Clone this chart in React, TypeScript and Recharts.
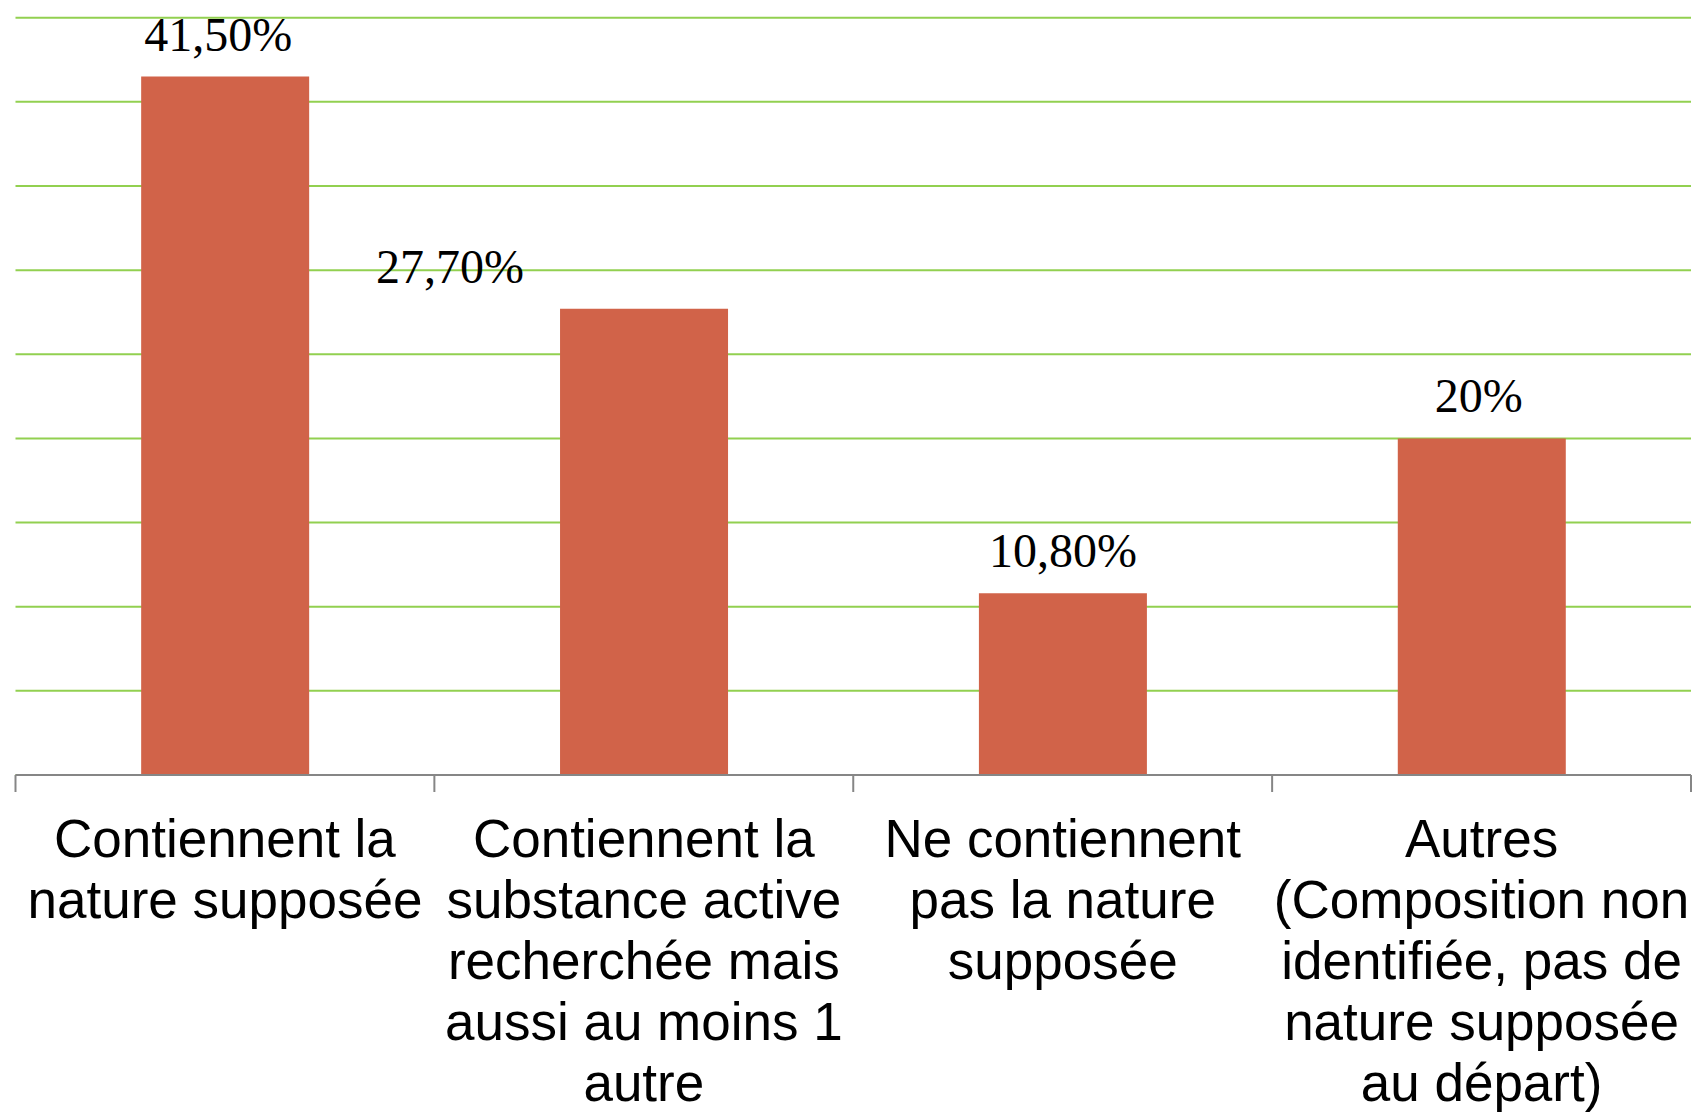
import React from 'react';
import { BarChart, Bar, XAxis, YAxis, CartesianGrid, LabelList } from 'recharts';

// categories (line breaks as in the original slide)
const categories = [
  'Contiennent la\nnature supposée',
  'Contiennent la\nsubstance active\nrecherchée mais\naussi au moins 1\nautre',
  'Ne contiennent\npas la nature\nsupposée',
  'Autres\n(Composition non\nidentifiée, pas de\nnature supposée\nau départ)',
];
const shares = [41.5, 27.7, 10.8, 20];
const shareLabels = ['41,50%', '27,70%', '10,80%', '20%'];
const yTicks = [0, 5, 10, 15, 20, 25, 30, 35, 40, 45];

// the second label was dragged left of its bar in the source
const labelShiftX = [-7, -194, 0, -3];

const W = 1707;
const H = 1112;
const M = { top: 17.7, right: 16, left: 15.5, bottom: 0 };
const AXIS_H = 337;
const HALF_BAND = (W - M.left - M.right) / categories.length / 2;

const BAR_COLOR = '#D16349';
const GRID_COLOR = '#92D050';
const AXIS_COLOR = '#868686';

const data = categories.map((name, i) => ({ name, value: shares[i], label: shareLabels[i] }));

function CategoryTick(props: any) {
  const { x, y, payload, index } = props;
  const half = payload?.offset || HALF_BAND;
  const lines = String(payload.value).split('\n');
  return (
    <g>
      <line x1={x - half} x2={x - half} y1={y} y2={y + 17} stroke={AXIS_COLOR} strokeWidth={2} />
      {index === categories.length - 1 && (
        <line x1={x + half} x2={x + half} y1={y} y2={y + 17} stroke={AXIS_COLOR} strokeWidth={2} />
      )}
      <text
        x={x}
        y={y + 82}
        textAnchor="middle"
        fill="#000"
        style={{ fontFamily: '"Liberation Sans", Arial, sans-serif', fontSize: 53 }}
      >
        {lines.map((l, i) => (
          <tspan key={i} x={x} dy={i === 0 ? 0 : 61}>
            {l}
          </tspan>
        ))}
      </text>
    </g>
  );
}

function ValueLabel(props: any) {
  const { x, y, width, index } = props;
  return (
    <text
      x={x + width / 2 + labelShiftX[index]}
      y={y - 26}
      textAnchor="middle"
      fill="#000"
      style={{ fontFamily: '"Liberation Serif", "DejaVu Serif", serif', fontSize: 48 }}
    >
      {shareLabels[index]}
    </text>
  );
}

export default function App() {
  return (
    <div style={{ width: W, height: H, background: '#fff' }}>
      <style>{'body{margin:0}'}</style>
      <BarChart width={W} height={H} data={data} margin={M} barCategoryGap="30%">
        <CartesianGrid vertical={false} stroke={GRID_COLOR} strokeWidth={2} />
        <YAxis hide type="number" domain={[0, 45]} ticks={yTicks} />
        <XAxis
          dataKey="name"
          height={AXIS_H}
          interval={0}
          tickSize={0}
          tickMargin={0}
          tickLine={false}
          axisLine={{ stroke: AXIS_COLOR, strokeWidth: 2 }}
          tick={<CategoryTick />}
        />
        <Bar dataKey="value" fill={BAR_COLOR} isAnimationActive={false}>
          <LabelList dataKey="label" content={<ValueLabel />} />
        </Bar>
      </BarChart>
    </div>
  );
}
